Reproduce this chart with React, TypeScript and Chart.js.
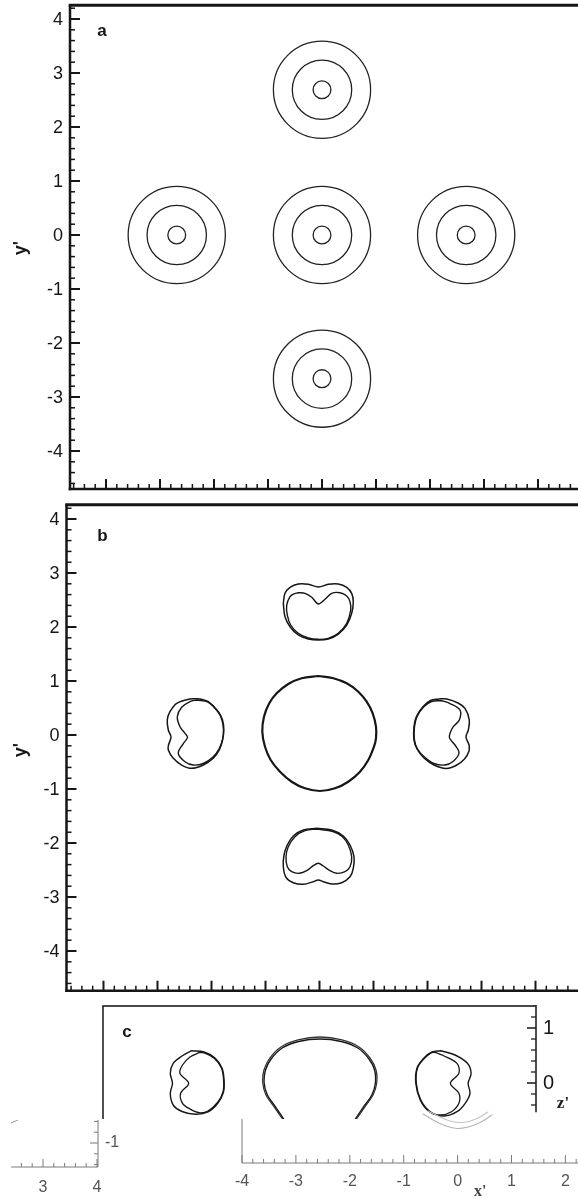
import { useEffect, useRef } from 'react';
import { Chart, registerables } from 'chart.js';

Chart.register(...registerables);

type Pt = [number, number];

// ---------- axis ticks ----------
const xyMajorTicks = [-4, -3, -2, -1, 0, 1, 2, 3, 4];
const xyTickLabels = ['-4', '-3', '-2', '-1', '0', '1', '2', '3', '4'];
const zMajorTicks = [0, 1];
const zTickLabels = ['0', '1'];
const xPrimeTicks = [-4, -3, -2, -1, 0, 1, 2];
const xPrimeLabels = ['-4', '-3', '-2', '-1', '0', '1', '2'];
const cornerXTicks = [3, 4];
const cornerXLabels = ['3', '4'];
const cornerYTicks = [-1];
const cornerYLabels = ['-1'];

// ---------- panel a: ring contours ----------
const ringCentersX = [0, -2.69, 0, 2.67, 0];
const ringCentersY = [2.69, 0, 0, 0, -2.66];
const ringRadii = [0.9, 0.55, 0.165];

// ---------- panel b: x'-y' contours ----------
const bTopOuter: Pt[] = [
  [-0.67, 2.439], [-0.639, 2.624], [-0.546, 2.735], [-0.393, 2.796], [-0.207, 2.791], [-0.02, 2.742],
  [0.163, 2.791], [0.348, 2.796], [0.504, 2.735], [0.596, 2.624], [0.626, 2.469], [0.596, 2.254],
  [0.504, 2.037], [0.348, 1.87], [0.163, 1.778], [-0.022, 1.759], [-0.207, 1.778], [-0.393, 1.852],
  [-0.546, 2.006], [-0.639, 2.191], [-0.67, 2.439],
];
const bTopInner: Pt[] = [
  [-0.393, 2.635], [-0.269, 2.624], [-0.144, 2.55], [-0.022, 2.426], [0.102, 2.513], [0.226, 2.624],
  [0.38, 2.635], [0.504, 2.574], [0.565, 2.469], [0.578, 2.315], [0.504, 2.069], [0.348, 1.883],
  [0.163, 1.791], [-0.022, 1.772], [-0.207, 1.796], [-0.393, 1.883], [-0.533, 2.037], [-0.596, 2.222],
  [-0.607, 2.407], [-0.546, 2.561], [-0.485, 2.611], [-0.393, 2.635],
];
const bBottomOuter: Pt[] = [
  [-0.052, -1.728], [0.226, -1.759], [0.441, -1.87], [0.565, -2.037], [0.639, -2.254], [0.626, -2.469],
  [0.565, -2.624], [0.411, -2.735], [0.226, -2.759], [0.07, -2.717], [-0.022, -2.685], [-0.115, -2.717],
  [-0.3, -2.765], [-0.485, -2.735], [-0.62, -2.635], [-0.67, -2.439], [-0.657, -2.222], [-0.596, -2.037],
  [-0.485, -1.87], [-0.3, -1.759], [-0.052, -1.728],
];
const bBottomInner: Pt[] = [
  [-0.052, -1.741], [0.25, -1.787], [0.42, -1.88], [0.533, -2.037], [0.596, -2.254], [0.565, -2.439],
  [0.472, -2.531], [0.319, -2.561], [0.194, -2.513], [0.07, -2.426], [-0.022, -2.376], [-0.115, -2.42],
  [-0.237, -2.513], [-0.374, -2.561], [-0.515, -2.531], [-0.596, -2.439], [-0.62, -2.254],
  [-0.578, -2.069], [-0.454, -1.883], [-0.269, -1.772], [-0.052, -1.741],
];
const bLeftOuter: Pt[] = [
  [-2.213, 0.667], [-2.398, 0.667], [-2.644, 0.587], [-2.769, 0.431], [-2.819, 0.278], [-2.8, 0.093],
  [-2.75, -0.037], [-2.796, -0.185], [-2.8, -0.278], [-2.707, -0.431], [-2.552, -0.556], [-2.367, -0.617],
  [-2.152, -0.556], [-1.967, -0.431], [-1.856, -0.278], [-1.796, -0.093], [-1.772, 0.093], [-1.796, 0.278],
  [-1.874, 0.431], [-2.059, 0.617], [-2.213, 0.667],
];
const bLeftInner: Pt[] = [
  [-2.269, 0.648], [-2.398, 0.62], [-2.552, 0.513], [-2.633, 0.339], [-2.583, 0.154], [-2.491, 0.031],
  [-2.444, -0.046], [-2.528, -0.167], [-2.615, -0.339], [-2.491, -0.494], [-2.337, -0.556], [-2.152, -0.528],
  [-1.972, -0.407], [-1.861, -0.259], [-1.796, -0.093], [-1.778, 0.093], [-1.806, 0.278], [-1.88, 0.431],
  [-2.065, 0.611], [-2.269, 0.648],
];
const bRightOuter: Pt[] = [
  [2.213, 0.667], [2.356, 0.667], [2.565, 0.593], [2.694, 0.494], [2.774, 0.278], [2.756, 0.093],
  [2.713, -0.037], [2.769, -0.185], [2.769, -0.296], [2.685, -0.444], [2.528, -0.565], [2.343, -0.62],
  [2.12, -0.556], [1.935, -0.426], [1.806, -0.259], [1.75, -0.093], [1.75, 0.154], [1.793, 0.339],
  [1.915, 0.524], [2.057, 0.639], [2.213, 0.667],
];
const bRightInner: Pt[] = [
  [2.25, 0.639], [2.417, 0.583], [2.602, 0.463], [2.589, 0.278], [2.478, 0.154], [2.417, 0.031],
  [2.407, -0.056], [2.509, -0.185], [2.583, -0.333], [2.472, -0.491], [2.324, -0.556], [2.12, -0.528],
  [1.944, -0.407], [1.815, -0.259], [1.759, -0.093], [1.759, 0.154], [1.806, 0.339], [1.926, 0.519],
  [2.074, 0.62], [2.25, 0.639],
];
const bCenter: Pt[] = [
  [-0.022, 1.093], [0.256, 1.05], [0.504, 0.957], [0.719, 0.802], [0.874, 0.617], [0.985, 0.402],
  [1.046, 0.154], [1.046, -0.061], [1.009, -0.217], [0.904, -0.463], [0.75, -0.68], [0.533, -0.865],
  [0.287, -0.987], [0.009, -1.037], [-0.269, -0.987], [-0.515, -0.865], [-0.731, -0.68], [-0.904, -0.463],
  [-1.009, -0.217], [-1.059, 0.061], [-1.028, 0.339], [-0.93, 0.587], [-0.793, 0.772], [-0.578, 0.944],
  [-0.33, 1.05], [-0.022, 1.093],
];

// ---------- panel c: x'-z' contours ----------
const cLeftOuter: Pt[] = [
  [-2.367, 0.587], [-2.546, 0.491], [-2.709, 0.358], [-2.763, 0.176], [-2.722, -0.005], [-2.763, -0.187],
  [-2.709, -0.4], [-2.546, -0.518], [-2.298, -0.569], [-2.065, -0.527], [-1.88, -0.364], [-1.778, -0.164],
  [-1.767, 0.055], [-1.806, 0.273], [-1.935, 0.455], [-2.139, 0.564], [-2.367, 0.587],
];
const cLeftInner: Pt[] = [
  [-2.231, 0.551], [-2.398, 0.473], [-2.537, 0.327], [-2.585, 0.176], [-2.422, -0.005], [-2.572, -0.187],
  [-2.537, -0.369], [-2.398, -0.473], [-2.231, -0.54], [-2.065, -0.509], [-1.88, -0.345], [-1.787, -0.164],
  [-1.776, 0.055], [-1.815, 0.273], [-1.944, 0.445], [-2.12, 0.545], [-2.231, 0.551],
];
const cRightOuter: Pt[] = [
  [2.241, 0.587], [2.509, 0.509], [2.739, 0.358], [2.807, 0.176], [2.752, -0.005], [2.787, -0.187],
  [2.698, -0.369], [2.546, -0.522], [2.306, -0.6], [2.035, -0.522], [1.865, -0.309], [1.783, -0.005],
  [1.806, 0.273], [1.935, 0.455], [2.083, 0.564], [2.241, 0.587],
];
const cRightInner: Pt[] = [
  [2.274, 0.509], [2.546, 0.358], [2.581, 0.176], [2.424, -0.005], [2.581, -0.187], [2.581, -0.369],
  [2.444, -0.522], [2.231, -0.582], [2.039, -0.513], [1.872, -0.3], [1.793, -0.005], [1.815, 0.273],
  [1.944, 0.449], [2.102, 0.555], [2.274, 0.509],
];
const cCenterOuter: Pt[] = [
  [-0.657, -0.691], [-0.824, -0.455], [-0.991, -0.218], [-1.05, 0], [-1.028, 0.236], [-0.917, 0.455],
  [-0.713, 0.655], [-0.398, 0.782], [0.009, 0.836], [0.417, 0.782], [0.731, 0.655], [0.935, 0.455],
  [1.046, 0.236], [1.059, 0], [0.991, -0.218], [0.824, -0.455], [0.657, -0.691],
];
const cCenterInner: Pt[] = [
  [-0.64, -0.691], [-0.8, -0.455], [-0.965, -0.218], [-1.025, 0], [-1.0, 0.236], [-0.89, 0.445],
  [-0.69, 0.636], [-0.385, 0.755], [0.009, 0.8], [0.4, 0.755], [0.71, 0.636], [0.91, 0.445],
  [1.02, 0.236], [1.035, 0], [0.97, -0.218], [0.8, -0.455], [0.64, -0.691],
];

// ---------- lower strip pieces ----------
const xpArcLower: Pt[] = [
  [-0.642, -0.564], [-0.419, -0.691], [-0.215, -0.782], [-0.011, -0.827], [0.193, -0.8], [0.416, -0.718], [0.638, -0.582],
];
const xpArcUpper: Pt[] = [
  [-0.549, -0.509], [-0.326, -0.618], [-0.141, -0.691], [0.026, -0.718], [0.211, -0.7], [0.416, -0.618], [0.564, -0.527],
];
const cornerStroke: Pt[] = [[2.407, -0.63], [2.574, -0.556]];

// ---------- drawing helpers ----------
const INK = '#161616';
const GREY = '#7a7a7a';
const SANS = '"Liberation Sans", Arial, Helvetica, sans-serif';
const SERIF = '"Liberation Serif", "Times New Roman", serif';

function stroke(ctx: CanvasRenderingContext2D, x1: number, y1: number, x2: number, y2: number, color: string, w: number) {
  ctx.beginPath();
  ctx.strokeStyle = color;
  ctx.lineWidth = w;
  ctx.lineCap = 'butt';
  ctx.moveTo(x1, y1);
  ctx.lineTo(x2, y2);
  ctx.stroke();
}

function text(ctx: CanvasRenderingContext2D, s: string, x: number, y: number, font: string, color: string, align: CanvasTextAlign) {
  ctx.font = font;
  ctx.fillStyle = color;
  ctx.textAlign = align;
  ctx.textBaseline = 'middle';
  ctx.fillText(s, x, y);
}

function minorTicks(min: number, max: number, step: number, majors: number[]) {
  const out: number[] = [];
  for (let i = Math.ceil(min / step - 1e-9); i * step <= max + 1e-9; i++) {
    const v = Math.round(i * step * 1000) / 1000;
    if (!majors.some((m) => Math.abs(m - v) < 1e-6)) out.push(v);
  }
  return out;
}

function contour(points: Pt[], color: string, width: number, tension = 0.35) {
  return {
    data: points.map(([x, y]) => ({ x, y })),
    showLine: true,
    borderColor: color,
    borderWidth: width,
    pointRadius: 0,
    fill: false,
    tension,
    borderJoinStyle: 'round',
    borderCapStyle: 'round',
  };
}

// x'-y' frame with inward major/minor ticks
function decorateXY(letter: string, letterDx: number, letterDy: number, titleDy: number) {
  return (chart: Chart) => {
    const ctx = chart.ctx;
    const { left, right, top, bottom } = chart.chartArea;
    const xs = chart.scales.x;
    const ys = chart.scales.y;
    ctx.save();
    stroke(ctx, left - 1.3, top, right, top, INK, 3);
    stroke(ctx, left, top, left, bottom + 1.3, INK, 2.5);
    stroke(ctx, left - 1.3, bottom, right, bottom, INK, 2.5);
    xyMajorTicks.forEach((v) => {
      const py = ys.getPixelForValue(v);
      stroke(ctx, left, py, left + 10, py, INK, 2);
      const px = xs.getPixelForValue(v);
      stroke(ctx, px, bottom, px, bottom - 10, INK, 2);
    });
    minorTicks(ys.min, ys.max - 0.05, 0.2, xyMajorTicks).forEach((v) => {
      const py = ys.getPixelForValue(v);
      stroke(ctx, left, py, left + 5, py, INK, 1.5);
    });
    minorTicks(xs.min + 0.05, xs.max, 0.2, xyMajorTicks).forEach((v) => {
      const px = xs.getPixelForValue(v);
      stroke(ctx, px, bottom, px, bottom - 5, INK, 1.5);
    });
    xyMajorTicks.forEach((v, i) => {
      text(ctx, xyTickLabels[i], left - 7, ys.getPixelForValue(v) + 1, `18px ${SANS}`, INK, 'right');
    });
    ctx.save();
    ctx.translate(21, ys.getPixelForValue(0) + titleDy);
    ctx.rotate(-Math.PI / 2);
    text(ctx, "y'", 0, 0, `bold 18px ${SANS}`, INK, 'center');
    ctx.restore();
    text(ctx, letter, left + letterDx, top + letterDy, `bold 17px ${SANS}`, INK, 'center');
    ctx.restore();
  };
}

function decorateC(chart: Chart) {
  const ctx = chart.ctx;
  const { left, right, top, bottom } = chart.chartArea;
  const ys = chart.scales.y;
  ctx.save();
  stroke(ctx, left - 0.8, top, right, top, '#4a4a4a', 2);
  stroke(ctx, left, top, left, bottom, '#222', 1.6);
  const axisEnd = ys.getPixelForValue(-0.53);
  stroke(ctx, right, top - 1, right, axisEnd, '#222', 1.6);
  zMajorTicks.forEach((v, i) => {
    const p = ys.getPixelForValue(v);
    stroke(ctx, right - 9, p, right, p, '#222', 1.6);
    text(ctx, zTickLabels[i], right + 7, p, `20px ${SANS}`, INK, 'left');
  });
  minorTicks(-0.4, ys.max - 0.05, 0.2, zMajorTicks).forEach((v) => {
    const p = ys.getPixelForValue(v);
    stroke(ctx, right - 5, p, right, p, '#222', 1.3);
  });
  text(ctx, 'c', left + 24, top + 26, `bold 17px ${SANS}`, INK, 'center');
  text(ctx, "z'", right + 27, ys.getPixelForValue(-0.38), `bold 17px ${SERIF}`, '#222', 'center');
  ctx.restore();
}

function decorateXPrime(chart: Chart) {
  const ctx = chart.ctx;
  const { left, right, bottom } = chart.chartArea;
  const xs = chart.scales.x;
  const ys = chart.scales.y;
  ctx.save();
  stroke(ctx, left, bottom, right, bottom, GREY, 1);
  stroke(ctx, left, ys.getPixelForValue(-0.655), left, bottom, GREY, 1);
  xPrimeTicks.forEach((v, i) => {
    const p = xs.getPixelForValue(v);
    stroke(ctx, p, bottom, p, bottom - 8, GREY, 1);
    text(ctx, xPrimeLabels[i], p, bottom + 19, `16px ${SANS}`, '#555', 'center');
  });
  minorTicks(xs.min, xs.max, 0.2, xPrimeTicks).forEach((v) => {
    const p = xs.getPixelForValue(v);
    stroke(ctx, p, bottom, p, bottom - 4, GREY, 1);
  });
  text(ctx, "x'", xs.getPixelForValue(0.42), bottom + 29, `bold 16px ${SERIF}`, '#444', 'center');
  ctx.restore();
}

function decorateCorner(chart: Chart) {
  const ctx = chart.ctx;
  const { left, right, top, bottom } = chart.chartArea;
  const xs = chart.scales.x;
  const ys = chart.scales.y;
  ctx.save();
  stroke(ctx, left, bottom, right, bottom, GREY, 1);
  stroke(ctx, right, top, right, bottom, GREY, 1);
  cornerXTicks.forEach((v, i) => {
    const p = xs.getPixelForValue(v);
    stroke(ctx, p, bottom, p, bottom - 8, GREY, 1);
    text(ctx, cornerXLabels[i], p, bottom + 21, `16px ${SANS}`, '#555', 'center');
  });
  minorTicks(xs.min, xs.max, 0.2, cornerXTicks).forEach((v) => {
    const p = xs.getPixelForValue(v);
    stroke(ctx, p, bottom, p, bottom - 4, GREY, 1);
  });
  cornerYTicks.forEach((v, i) => {
    const p = ys.getPixelForValue(v);
    stroke(ctx, right - 8, p, right, p, GREY, 1);
    text(ctx, cornerYLabels[i], right + 7, p, `16px ${SANS}`, '#555', 'left');
  });
  minorTicks(ys.min, ys.max, 0.2, cornerYTicks).forEach((v) => {
    const p = ys.getPixelForValue(v);
    stroke(ctx, right - 4, p, right, p, GREY, 1);
  });
  ctx.restore();
}

// ---------- panel specs ----------
type PanelSpec = {
  x: number; y: number; w: number; h: number;
  padding: { left: number; right: number; top: number; bottom: number };
  xRange: [number, number];
  yRange: [number, number];
  datasets: any[];
  decorate: (chart: Chart) => void;
};

const ringDatasets = ringRadii.map((r) => ({
  data: ringCentersX.map((x, i) => ({ x, y: ringCentersY[i] })),
  showLine: false,
  pointStyle: 'circle',
  pointBackgroundColor: 'rgba(0,0,0,0)',
  pointBorderColor: '#222',
  pointBorderWidth: 1.3,
  pointRadius: (c: any) => {
    const s = c.chart.scales.x;
    return s ? s.getPixelForValue(r) - s.getPixelForValue(0) : 0;
  },
}));

const panels: PanelSpec[] = [
  {
    x: 0, y: 0, w: 578, h: 500,
    padding: { left: 70, right: 0, top: 5.3, bottom: 11 },
    xRange: [-4.6667, 4.7407],
    yRange: [-4.7037, 4.2537],
    datasets: ringDatasets,
    decorate: decorateXY('a', 32, 26, 13),
  },
  {
    x: 0, y: 500, w: 578, h: 500,
    padding: { left: 66.5, right: 0, top: 4.7, bottom: 9.3 },
    xRange: [-4.685, 4.787],
    yRange: [-4.735, 4.265],
    datasets: [
      contour(bTopOuter, INK, 1.5), contour(bTopInner, INK, 1.4),
      contour(bBottomOuter, INK, 1.5), contour(bBottomInner, INK, 1.4),
      contour(bLeftOuter, INK, 1.5), contour(bLeftInner, INK, 1.4),
      contour(bRightOuter, INK, 1.5), contour(bRightInner, INK, 1.4),
      contour(bCenter, INK, 2.2),
    ],
    decorate: decorateXY('b', 36, 32, 15),
  },
  {
    x: 0, y: 1000, w: 578, h: 199,
    padding: { left: 103, right: 42, top: 6, bottom: 80 },
    xRange: [-4.009, 4.009],
    yRange: [-0.6545, 1.4],
    datasets: [
      contour(cLeftOuter, INK, 1.4), contour(cLeftInner, INK, 1.3),
      contour(cRightOuter, INK, 1.4), contour(cRightInner, INK, 1.3),
      contour(cCenterOuter, '#333', 1.3), contour(cCenterInner, INK, 1.4),
    ],
    decorate: decorateC,
  },
  {
    x: 0, y: 1095, w: 578, h: 104,
    padding: { left: 242, right: 0, top: 5, bottom: 36 },
    xRange: [-4, 2.2338],
    yRange: [-1.4545, -0.309],
    datasets: [contour(xpArcLower, '#b4b4b4', 1.1), contour(xpArcUpper, '#c4c4c4', 1.1)],
    decorate: decorateXPrime,
  },
  {
    x: 0, y: 1105, w: 150, h: 94,
    padding: { left: 11, right: 52, top: 15, bottom: 32 },
    xRange: [2.4074, 4.0185],
    yRange: [-1.444, -0.574],
    datasets: [contour(cornerStroke, '#999', 1, 0)],
    decorate: decorateCorner,
  },
];

function buildConfig(spec: PanelSpec): any {
  return {
    type: 'scatter',
    data: { datasets: spec.datasets },
    options: {
      animation: false,
      responsive: false,
      devicePixelRatio: 1,
      events: [],
      layout: { padding: spec.padding },
      plugins: { legend: { display: false }, tooltip: { enabled: false }, title: { display: false } },
      scales: {
        x: { type: 'linear', min: spec.xRange[0], max: spec.xRange[1], display: false },
        y: { type: 'linear', min: spec.yRange[0], max: spec.yRange[1], display: false },
      },
    },
    plugins: [{ id: 'frame', afterDraw: (chart: Chart) => spec.decorate(chart) }],
  };
}

function PanelCanvas({ spec }: { spec: PanelSpec }) {
  const ref = useRef<HTMLCanvasElement>(null);
  useEffect(() => {
    if (!ref.current) return;
    const chart = new Chart(ref.current, buildConfig(spec));
    return () => chart.destroy();
  }, [spec]);
  return (
    <canvas
      ref={ref}
      width={spec.w}
      height={spec.h}
      style={{ position: 'absolute', left: spec.x, top: spec.y, width: spec.w, height: spec.h }}
    />
  );
}

export default function App() {
  return (
    <div style={{ position: 'absolute', left: 0, top: 0, width: 578, height: 1199, overflow: 'hidden', background: '#fff' }}>
      {panels.map((p, i) => (
        <PanelCanvas key={i} spec={p} />
      ))}
    </div>
  );
}
